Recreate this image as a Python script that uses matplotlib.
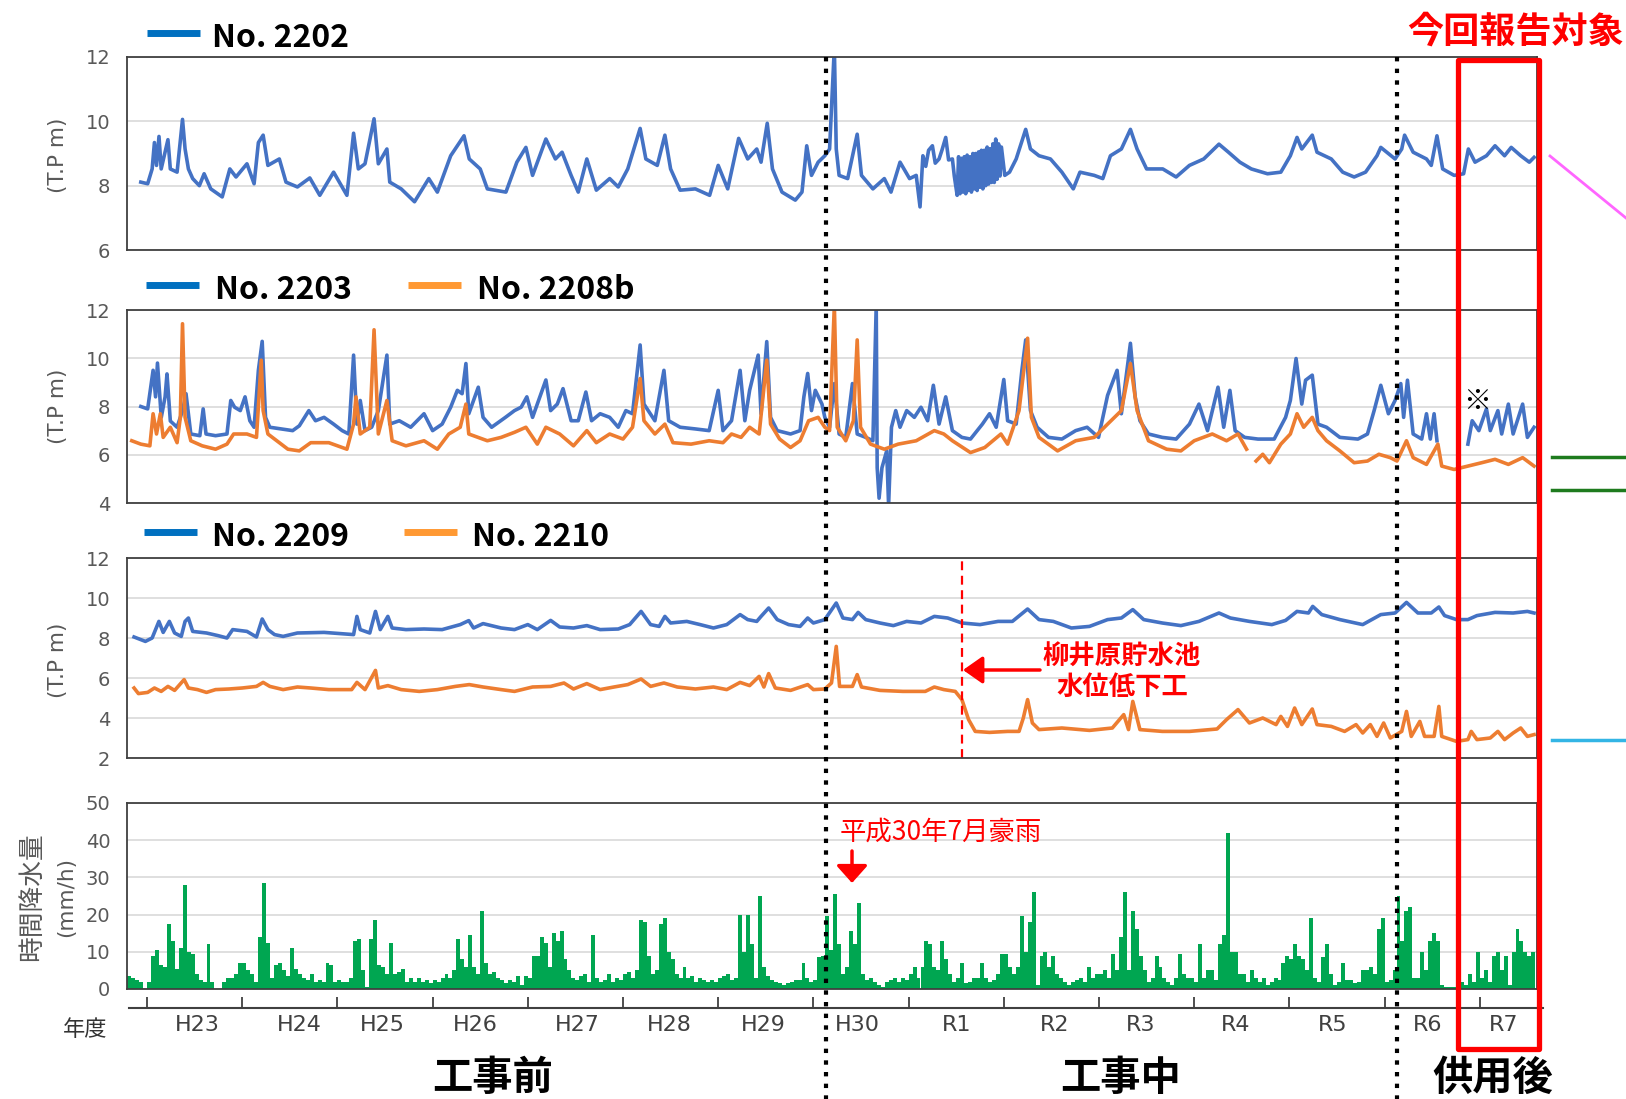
import matplotlib
matplotlib.use('Agg')
import matplotlib.pyplot as plt
import numpy as np
from matplotlib.lines import Line2D
from matplotlib.patches import Rectangle, FancyArrowPatch

# 地下水位 (T.P m) : (年度経過, 値) 年度経過 0 = H23年度開始
pts_2202 = [(-0.065, 8.11), (0.007, 8.06), (0.054, 8.52), (0.078, 9.34), (0.10, 8.63), (0.126, 9.53),
            (0.149, 8.52), (0.22, 9.43), (0.245, 8.52), (0.316, 8.42), (0.373, 10.06), (0.40, 9.14),
            (0.435, 8.52), (0.48, 8.22), (0.55, 8.0), (0.60, 8.37), (0.67, 7.9), (0.79, 7.65),
            (0.87, 8.52), (0.935, 8.27), (1.05, 8.68), (1.125, 8.06), (1.17, 9.34), (1.22, 9.57),
            (1.27, 8.63), (1.39, 8.83), (1.46, 8.11), (1.58, 7.96), (1.71, 8.24), (1.815, 7.7),
            (1.96, 8.42), (2.10, 7.7), (2.17, 9.63), (2.22, 8.52), (2.29, 8.68), (2.385, 10.08),
            (2.43, 8.68), (2.52, 9.14), (2.55, 8.11), (2.67, 7.9), (2.81, 7.5), (2.96, 8.22),
            (3.05, 7.8), (3.19, 8.93), (3.33, 9.55), (3.385, 8.83), (3.50, 8.52), (3.575, 7.9),
            (3.77, 7.8), (3.885, 8.73), (3.98, 9.19), (4.05, 8.32), (4.19, 9.45), (4.29, 8.83),
            (4.36, 9.04), (4.455, 8.32), (4.53, 7.8), (4.62, 8.83), (4.72, 7.86), (4.86, 8.22),
            (4.95, 7.96), (5.05, 8.52), (5.18, 9.78), (5.24, 8.83), (5.36, 8.63), (5.44, 9.57),
            (5.50, 8.52), (5.60, 7.86), (5.76, 7.9), (5.91, 7.7), (6.0, 8.63), (6.10, 7.9),
            (6.215, 9.47), (6.31, 8.83), (6.405, 9.14), (6.45, 8.73), (6.515, 9.94), (6.57, 8.52),
            (6.67, 7.8), (6.81, 7.55), (6.88, 7.8), (6.93, 9.24), (6.98, 8.32), (7.05, 8.73),
            (7.12, 8.93), (7.17, 9.14), (7.22, 12.3), (7.24, 9.14), (7.27, 8.32), (7.36, 8.22),
            (7.46, 9.6), (7.505, 8.32), (7.625, 7.9), (7.745, 8.22), (7.815, 7.8), (7.91, 8.73),
            (8.01, 8.22), (8.08, 8.32), (8.12, 7.34), (8.15, 8.93), (8.18, 8.6), (8.21, 9.1),
            (8.25, 9.24), (8.28, 8.7), (8.32, 8.83), (8.35, 9.1), (8.39, 9.5), (8.42, 8.8),
            (8.46, 8.83), (8.48, 8.3), (8.51, 7.7), (8.525, 8.9), (8.54, 7.75), (8.555, 8.85),
            (8.57, 7.8), (8.585, 8.9), (8.60, 7.75), (8.615, 8.95), (8.63, 7.85), (8.645, 8.9),
            (8.66, 7.8), (8.675, 9.0), (8.69, 7.9), (8.705, 9.0), (8.72, 7.85), (8.735, 9.05),
            (8.75, 7.95), (8.765, 9.1), (8.78, 7.9), (8.795, 9.1), (8.81, 8.0), (8.825, 9.2),
            (8.84, 8.05), (8.855, 9.15), (8.87, 8.1), (8.885, 9.3), (8.90, 8.1), (8.915, 9.45),
            (8.93, 8.2), (8.945, 9.3), (8.96, 8.3), (8.975, 9.2),
            (9.01, 8.32), (9.06, 8.42), (9.13, 8.83), (9.23, 9.75), (9.28, 9.14), (9.37, 8.93),
            (9.49, 8.83), (9.61, 8.42), (9.73, 7.9), (9.80, 8.42), (9.95, 8.32), (10.04, 8.22),
            (10.12, 8.93), (10.235, 9.14), (10.33, 9.75), (10.40, 9.14), (10.50, 8.52), (10.67, 8.52),
            (10.81, 8.27), (10.95, 8.63), (11.10, 8.83), (11.26, 9.29), (11.36, 9.04), (11.48, 8.73),
            (11.60, 8.52), (11.77, 8.37), (11.91, 8.42), (12.01, 8.93), (12.08, 9.5), (12.13, 9.14),
            (12.24, 9.57), (12.29, 9.04), (12.44, 8.83), (12.56, 8.42), (12.68, 8.27), (12.80, 8.42),
            (12.92, 8.93), (12.96, 9.19), (13.11, 8.83), (13.18, 9.14), (13.21, 9.57), (13.30, 9.04),
            (13.44, 8.83), (13.49, 8.63), (13.55, 9.55), (13.61, 8.52), (13.73, 8.32), (13.83, 8.37),
            (13.88, 9.14), (13.95, 8.73), (14.07, 8.93), (14.16, 9.24), (14.26, 8.93), (14.33, 9.19),
            (14.43, 8.93), (14.52, 8.73), (14.57, 8.88)]

pts_2203 = [(-0.065, 8.0), (0.007, 7.9), (0.064, 9.5), (0.09, 8.4), (0.11, 9.8), (0.15, 7.55),
            (0.19, 8.4), (0.21, 9.35), (0.245, 7.4), (0.316, 7.14), (0.373, 7.83), (0.41, 8.53),
            (0.46, 6.86), (0.555, 6.79), (0.59, 7.9), (0.62, 6.86), (0.72, 6.79), (0.84, 6.86),
            (0.88, 8.25), (0.92, 7.97), (0.98, 7.83), (1.03, 8.4), (1.08, 7.41), (1.125, 7.14),
            (1.17, 9.5), (1.21, 10.7), (1.245, 7.55), (1.29, 7.14), (1.41, 7.07), (1.53, 7.0),
            (1.60, 7.2), (1.70, 7.83), (1.77, 7.41), (1.86, 7.55), (1.96, 7.27), (2.05, 7.0),
            (2.12, 6.86), (2.17, 10.13), (2.205, 7.27), (2.24, 8.25), (2.29, 7.0), (2.36, 7.14),
            (2.43, 7.83), (2.52, 10.13), (2.55, 7.27), (2.65, 7.41), (2.77, 7.14), (2.91, 7.7),
            (3.0, 7.0), (3.10, 7.27), (3.19, 7.97), (3.26, 8.67), (3.31, 8.53), (3.35, 9.78),
            (3.38, 7.7), (3.48, 8.8), (3.53, 7.55), (3.62, 7.14), (3.765, 7.55), (3.86, 7.83),
            (3.93, 7.97), (3.99, 8.4), (4.05, 7.55), (4.19, 9.1), (4.24, 7.83), (4.31, 8.1),
            (4.37, 8.74), (4.455, 7.41), (4.53, 7.41), (4.61, 8.6), (4.67, 7.41), (4.76, 7.7),
            (4.86, 7.55), (4.95, 7.14), (5.03, 7.83), (5.10, 7.7), (5.18, 10.55), (5.22, 8.1),
            (5.335, 7.41), (5.43, 9.5), (5.48, 7.41), (5.60, 7.14), (5.76, 7.07), (5.905, 7.0),
            (6.0, 8.67), (6.05, 7.0), (6.14, 7.41), (6.23, 9.5), (6.28, 7.41), (6.33, 8.67),
            (6.42, 10.13), (6.45, 7.7), (6.51, 10.69), (6.55, 7.55), (6.62, 7.0), (6.76, 6.86),
            (6.86, 7.0), (6.90, 8.4), (6.94, 9.37), (6.98, 7.83), (7.02, 8.67), (7.09, 8.1),
            (7.12, 7.55), (7.17, 7.14), (7.22, 8.95), (7.27, 6.86), (7.34, 6.72), (7.41, 8.95),
            (7.46, 6.86), (7.55, 6.72), (7.625, 6.58), (7.66, 12.2), (7.67, 5.46), (7.69, 4.2),
            (7.72, 5.46), (7.77, 6.16), (7.79, 3.9), (7.82, 7.14), (7.865, 7.83), (7.91, 7.14),
            (7.98, 7.83), (8.06, 7.55), (8.13, 7.97), (8.20, 7.41), (8.26, 8.88), (8.32, 7.27),
            (8.39, 8.4), (8.46, 7.0), (8.56, 6.72), (8.65, 6.65), (8.775, 7.27), (8.85, 7.7),
            (8.92, 7.14), (9.0, 9.12), (9.04, 7.41), (9.13, 7.27), (9.19, 9.5), (9.23, 10.76),
            (9.28, 7.83), (9.35, 7.14), (9.47, 6.72), (9.61, 6.65), (9.755, 7.0), (9.875, 7.14),
            (9.995, 6.72), (10.09, 8.46), (10.19, 9.5), (10.235, 7.7), (10.33, 10.62), (10.38, 8.4),
            (10.43, 7.41), (10.52, 6.86), (10.665, 6.72), (10.81, 6.65), (10.95, 7.27), (11.05, 8.1),
            (11.14, 7.0), (11.25, 8.8), (11.31, 7.14), (11.375, 8.67), (11.43, 7.0), (11.53, 6.72),
            (11.67, 6.65), (11.84, 6.65), (11.96, 7.55), (12.01, 8.25), (12.07, 9.99), (12.13, 8.1),
            (12.17, 9.09), (12.24, 9.3), (12.30, 7.27), (12.39, 7.14), (12.53, 6.72), (12.72, 6.65),
            (12.82, 6.86), (12.89, 7.83), (12.96, 8.88), (13.04, 7.7), (13.11, 8.25), (13.17, 8.95),
            (13.2, 7.55), (13.24, 9.09), (13.30, 6.86), (13.39, 6.65), (13.44, 7.7), (13.48, 6.65),
            (13.52, 7.7), (13.55, 6.58), (13.7, np.nan), (13.875, 6.44), (13.92, 7.41), (13.99, 7.0),
            (14.07, 7.9), (14.11, 7.0), (14.19, 7.83), (14.23, 6.86), (14.30, 8.1), (14.35, 6.86),
            (14.45, 8.1), (14.50, 6.72), (14.57, 7.14)]

pts_2208b = [(-0.16, 6.58), (-0.065, 6.44), (0.03, 6.37), (0.064, 7.7), (0.10, 6.86), (0.14, 7.7),
             (0.17, 6.72), (0.245, 7.14), (0.316, 6.5), (0.35, 7.55), (0.373, 11.43), (0.40, 7.55),
             (0.46, 6.58), (0.58, 6.37), (0.72, 6.23), (0.84, 6.44), (0.91, 6.86), (1.05, 6.86),
             (1.15, 6.72), (1.20, 9.92), (1.22, 7.83), (1.27, 6.86), (1.34, 6.65), (1.48, 6.23),
             (1.60, 6.16), (1.72, 6.5), (1.91, 6.5), (2.10, 6.23), (2.17, 7.27), (2.195, 8.4),
             (2.24, 6.86), (2.34, 7.14), (2.385, 11.18), (2.43, 6.86), (2.52, 8.25), (2.575, 6.58),
             (2.72, 6.37), (2.91, 6.58), (3.05, 6.23), (3.17, 6.86), (3.29, 7.14), (3.35, 8.1),
             (3.38, 6.86), (3.575, 6.58), (3.72, 6.72), (3.86, 6.93), (3.98, 7.14), (4.10, 6.44),
             (4.19, 7.14), (4.335, 6.86), (4.48, 6.37), (4.62, 7.0), (4.72, 6.5), (4.86, 6.86),
             (5.0, 6.65), (5.10, 7.14), (5.18, 9.16), (5.22, 7.41), (5.335, 6.86), (5.44, 7.27),
             (5.525, 6.5), (5.715, 6.44), (5.905, 6.58), (6.05, 6.5), (6.14, 6.86), (6.24, 6.72),
             (6.33, 7.14), (6.43, 6.86), (6.51, 9.92), (6.55, 7.27), (6.645, 6.65), (6.76, 6.3),
             (6.86, 6.58), (6.95, 7.41), (7.05, 7.55), (7.12, 7.14), (7.17, 7.0), (7.22, 12.2),
             (7.25, 7.14), (7.34, 6.58), (7.42, 7.41), (7.46, 10.76), (7.495, 7.14), (7.60, 6.44),
             (7.745, 6.23), (7.89, 6.44), (8.08, 6.58), (8.27, 7.0), (8.37, 6.86), (8.46, 6.58),
             (8.65, 6.09), (8.80, 6.3), (8.97, 6.86), (9.04, 6.44), (9.16, 7.83), (9.25, 10.83),
             (9.29, 7.55), (9.37, 6.72), (9.565, 6.16), (9.755, 6.58), (9.95, 6.72), (10.09, 7.27),
             (10.235, 7.83), (10.33, 9.78), (10.40, 7.83), (10.52, 6.58), (10.71, 6.23), (10.86, 6.16),
             (11.0, 6.58), (11.19, 6.86), (11.34, 6.58), (11.46, 6.86), (11.55, 6.23), (11.6, np.nan),
             (11.65, 5.74), (11.72, 6.02), (11.79, 5.67), (11.91, 6.44), (12.01, 6.86), (12.08, 7.7),
             (12.15, 7.14), (12.24, 7.55), (12.30, 7.0), (12.39, 6.58), (12.53, 6.16), (12.68, 5.67),
             (12.82, 5.74), (12.94, 6.02), (13.06, 5.88), (13.13, 5.74), (13.23, 6.58), (13.30, 5.88),
             (13.44, 5.6), (13.56, 6.44), (13.60, 5.53), (13.73, 5.39), (13.875, 5.53), (14.02, 5.67),
             (14.16, 5.81), (14.30, 5.6), (14.45, 5.88), (14.57, 5.53)]

pts_2209 = [(-0.136, 8.05), (-0.017, 7.83), (0.054, 8.0), (0.125, 8.83), (0.17, 8.28), (0.235, 8.83),
            (0.29, 8.25), (0.36, 8.08), (0.40, 8.83), (0.435, 9.0), (0.48, 8.33), (0.625, 8.25),
            (0.745, 8.12), (0.84, 8.0), (0.90, 8.42), (1.05, 8.33), (1.15, 8.05), (1.21, 8.95),
            (1.27, 8.42), (1.34, 8.17), (1.43, 8.08), (1.58, 8.25), (1.86, 8.28), (2.17, 8.17),
            (2.205, 9.08), (2.24, 8.42), (2.34, 8.25), (2.40, 9.33), (2.45, 8.42), (2.53, 9.08),
            (2.575, 8.5), (2.72, 8.42), (2.91, 8.45), (3.10, 8.42), (3.29, 8.67), (3.38, 8.87),
            (3.43, 8.5), (3.53, 8.72), (3.72, 8.5), (3.86, 8.42), (4.0, 8.67), (4.10, 8.42),
            (4.24, 8.88), (4.335, 8.55), (4.48, 8.5), (4.62, 8.62), (4.76, 8.42), (4.95, 8.45),
            (5.07, 8.67), (5.19, 9.33), (5.29, 8.67), (5.38, 8.58), (5.44, 9.08), (5.50, 8.75),
            (5.67, 8.83), (5.81, 8.67), (5.95, 8.5), (6.09, 8.67), (6.23, 9.17), (6.31, 8.92),
            (6.405, 8.83), (6.45, 9.08), (6.53, 9.5), (6.62, 8.92), (6.74, 8.67), (6.86, 8.58),
            (6.94, 9.0), (7.0, 8.75), (7.12, 8.92), (7.24, 9.75), (7.31, 9.0), (7.41, 8.92),
            (7.47, 9.28), (7.55, 8.92), (7.70, 8.75), (7.84, 8.62), (7.98, 8.83), (8.13, 8.75),
            (8.27, 9.08), (8.41, 9.0), (8.56, 8.75), (8.75, 8.67), (8.94, 8.83), (9.09, 8.83),
            (9.25, 9.45), (9.37, 8.92), (9.52, 8.83), (9.71, 8.5), (9.90, 8.58), (10.09, 8.92),
            (10.235, 9.0), (10.355, 9.42), (10.47, 8.92), (10.665, 8.75), (10.86, 8.62), (11.05, 8.83),
            (11.26, 9.25), (11.38, 9.0), (11.58, 8.83), (11.815, 8.67), (11.96, 8.88), (12.08, 9.33),
            (12.20, 9.25), (12.245, 9.58), (12.34, 9.17), (12.53, 8.92), (12.77, 8.67), (12.96, 9.17),
            (13.11, 9.25), (13.23, 9.78), (13.35, 9.25), (13.49, 9.25), (13.57, 9.55), (13.63, 9.12),
            (13.755, 8.92), (13.875, 8.92), (13.97, 9.12), (14.16, 9.28), (14.35, 9.25), (14.50, 9.33),
            (14.57, 9.25)]

pts_2210 = [(-0.136, 5.5), (-0.09, 5.22), (0.007, 5.28), (0.078, 5.5), (0.149, 5.33), (0.22, 5.58),
            (0.29, 5.38), (0.39, 5.92), (0.435, 5.5), (0.53, 5.42), (0.625, 5.28), (0.72, 5.42),
            (0.86, 5.45), (1.0, 5.5), (1.15, 5.58), (1.22, 5.78), (1.29, 5.58), (1.43, 5.42),
            (1.58, 5.55), (1.72, 5.5), (1.91, 5.42), (2.15, 5.42), (2.205, 5.78), (2.29, 5.42),
            (2.40, 6.38), (2.43, 5.5), (2.53, 5.62), (2.67, 5.42), (2.86, 5.33), (3.05, 5.42),
            (3.24, 5.58), (3.385, 5.67), (3.53, 5.55), (3.72, 5.42), (3.86, 5.33), (4.05, 5.55),
            (4.24, 5.58), (4.38, 5.75), (4.48, 5.45), (4.62, 5.72), (4.76, 5.42), (4.905, 5.55),
            (5.05, 5.67), (5.19, 5.95), (5.29, 5.58), (5.43, 5.75), (5.57, 5.55), (5.76, 5.45),
            (5.95, 5.55), (6.09, 5.42), (6.23, 5.78), (6.33, 5.62), (6.43, 6.08), (6.48, 5.55),
            (6.53, 6.22), (6.60, 5.5), (6.76, 5.38), (6.94, 5.67), (7.0, 5.42), (7.12, 5.45),
            (7.19, 5.75), (7.24, 7.58), (7.275, 5.58), (7.41, 5.58), (7.46, 6.17), (7.505, 5.55),
            (7.70, 5.38), (7.94, 5.33), (8.175, 5.33), (8.27, 5.55), (8.37, 5.42), (8.49, 5.33),
            (8.56, 4.92), (8.63, 3.92), (8.70, 3.33), (8.85, 3.28), (9.04, 3.33), (9.16, 3.33),
            (9.205, 4.0), (9.25, 4.92), (9.30, 3.75), (9.37, 3.42), (9.61, 3.5), (9.90, 3.38),
            (10.14, 3.5), (10.26, 4.17), (10.31, 3.42), (10.355, 4.83), (10.43, 3.42), (10.665, 3.33),
            (10.95, 3.33), (11.24, 3.45), (11.34, 3.92), (11.46, 4.42), (11.58, 3.75), (11.72, 4.0),
            (11.86, 3.67), (11.91, 4.08), (11.98, 3.58), (12.055, 4.5), (12.13, 3.67), (12.24, 4.45),
            (12.29, 3.67), (12.44, 3.58), (12.58, 3.33), (12.70, 3.67), (12.77, 3.25), (12.85, 3.67),
            (12.92, 3.08), (12.99, 3.75), (13.06, 3.0), (13.18, 3.33), (13.23, 4.33), (13.28, 3.08),
            (13.37, 3.83), (13.42, 3.08), (13.52, 3.08), (13.57, 4.58), (13.60, 3.08), (13.755, 2.83),
            (13.875, 2.92), (13.91, 3.33), (13.97, 2.92), (14.11, 3.0), (14.19, 3.33), (14.26, 2.92),
            (14.35, 3.25), (14.43, 3.5), (14.50, 3.08), (14.57, 3.17)]

# 時間降水量 (mm/h) : 半月ごと, 年度ごと
rain_pre = [3.5, 3, 2.5, 2, 0]
rain_h23 = [2, 9, 10.5, 6.5, 6, 17.5, 13, 5.5, 11, 28, 10, 9.5, 4, 2.5, 2, 12, 2, 0, 0, 2, 3, 3, 4, 7]
rain_h24 = [7, 5, 4, 2, 14, 28.5, 12.5, 3, 6.5, 7, 5, 3.5, 11, 5.5, 4, 3, 2.5, 4, 2, 2.5, 2, 7, 6.5, 2]
rain_h25 = [2.5, 2, 2, 3, 13, 13.5, 5, 0.5, 13.5, 18.5, 6.5, 6, 4, 12.5, 4, 4.5, 5.5, 2, 3, 2, 3, 2, 2.5, 1.5]
rain_h26 = [2.5, 2, 3, 4, 3, 5, 13.5, 8, 6, 14.5, 6, 4, 21, 7, 4, 4.5, 3, 2.5, 1.5, 2.5, 2, 3.5, 1, 3.5]
rain_h27 = [3, 9, 9, 14, 12.5, 6, 15, 13, 15.5, 8, 5, 3, 2.5, 3.5, 4, 2, 14.5, 3, 2, 2.5, 4, 2, 3, 2.5]
rain_h28 = [4, 4.5, 3, 5, 18.5, 18, 9, 4, 5, 17.5, 19, 10, 8, 4, 3, 6, 3, 3.5, 2, 3, 2.5, 2, 2.5, 2]
rain_h29 = [3, 3.5, 4, 2.5, 3, 20, 10, 20, 12, 3, 25, 6, 3.5, 2.5, 2, 1.5, 1, 1.5, 2, 2.5, 2.5, 7, 3, 2]
rain_h30 = [2.5, 8.5, 9, 19.5, 10.5, 25.5, 12, 4, 6, 15.5, 12, 23, 4, 2.5, 3, 2, 1, 0.5, 2, 2.5, 3, 2, 3, 2.5]
rain_r1 = [4, 6, 3, 6, 13, 12, 6, 5, 13, 8, 4, 2, 3, 7, 1.5, 2, 3, 3, 7, 3, 2, 2.5, 4, 9.5]
rain_r2 = [9.5, 6, 4, 6, 19.5, 10, 18, 26, 1, 9, 10, 6, 9, 4, 3, 2, 1, 2, 2.5, 3, 2, 6, 3, 4]
rain_r3 = [4, 5, 3, 9.5, 5, 14, 26, 5, 21, 16, 9, 5, 2, 3, 9, 6, 3, 2, 1, 3, 9.5, 4, 3, 3]
rain_r4 = [2, 12, 3, 5, 5, 2.5, 12, 14.5, 42, 10, 10, 4, 4, 2, 5, 3, 2, 3, 1, 2, 3, 2.5, 7, 9]
rain_r5 = [8, 12, 9, 8, 5, 19, 3, 2, 8.5, 12, 4, 1, 2, 7, 2.5, 2.5, 1.5, 2, 5, 5, 6, 4, 16, 19]
rain_r6 = [2, 2.5, 5, 25, 13, 21, 22, 3, 3, 10, 5, 13, 15, 13, 1, 0.5, 0.5, 0.5, 3, 2, 1, 4, 2, 10]
rain_r7 = [3, 5, 2, 9, 10, 5, 9, 1, 10, 16, 13, 10, 9, 10]

year_labels = ['H23', 'H24', 'H25', 'H26', 'H27', 'H28', 'H29', 'H30',
               'R1', 'R2', 'R3', 'R4', 'R5', 'R6', 'R7']
year_label_pos = [0.53, 1.60, 2.47, 3.45, 4.52, 5.49, 6.47, 7.46,
                  8.50, 9.53, 10.44, 11.44, 12.45, 13.45, 14.25]

W, H = 1626, 1099
fig = plt.figure(figsize=(W / 100, H / 100), dpi=100)
JP = ['Noto Sans CJK JP', 'DejaVu Sans']

BLUE = '#4472C4'
ORANGE = '#ED7D31'
GREEN = '#00A651'
GRAY = '#595959'


def fx(x):
    return x / W


def fy(y):
    return 1 - y / H


def t_of(px):
    return (px - 147) / 95.2


XLIM = (t_of(127), t_of(1537))


def panel(top, bottom, ylim, yticks):
    ax = fig.add_axes([fx(127), fy(bottom), (1537 - 127) / W, (bottom - top) / H])
    ax.set_xlim(*XLIM)
    ax.set_ylim(*ylim)
    ax.set_yticks(yticks)
    ax.set_xticks([])
    ax.tick_params(axis='y', length=0, pad=12, labelsize=14, labelcolor=GRAY)
    ax.yaxis.grid(True, color='#d9d9d9', lw=1.2)
    ax.set_axisbelow(True)
    for s in ax.spines.values():
        s.set_color('#404040')
        s.set_linewidth(1.3)
    return ax


def series(ax, pts, color):
    t, v = np.array(pts, dtype=float).T
    ax.plot(t, v, color=color, lw=2.6, solid_joinstyle='round')


# パネル
ax1 = panel(57, 250, (6, 12), [6, 8, 10, 12])
series(ax1, pts_2202, BLUE)

ax2 = panel(310, 503, (4, 12), [4, 6, 8, 10, 12])
series(ax2, pts_2203, BLUE)
series(ax2, pts_2208b, ORANGE)

ax3 = panel(558, 758, (2, 12), [2, 4, 6, 8, 10, 12])
series(ax3, pts_2209, BLUE)
series(ax3, pts_2210, ORANGE)
ax3.axvline(t_of(962), color='red', lw=1.6, ls=(0, (4, 2.5)))

ax4 = panel(803, 989, (0, 50), [0, 10, 20, 30, 40, 50])
rain = (rain_pre + rain_h23 + rain_h24 + rain_h25 + rain_h26 + rain_h27 + rain_h28 + rain_h29
        + rain_h30 + rain_r1 + rain_r2 + rain_r3 + rain_r4 + rain_r5 + rain_r6 + rain_r7)
t_rain = -5 / 24 + (np.arange(len(rain)) + 0.5) / 24
ax4.bar(t_rain, rain, width=1 / 24, color=GREEN, lw=0)

# 年度軸
ax5 = fig.add_axes([fx(129), fy(1008), (1543 - 129) / W, 0.002])
ax5.set_xlim(t_of(129), t_of(1543))
ax5.set_ylim(0, 1)
ax5.patch.set_visible(False)
for k in ['left', 'right', 'top']:
    ax5.spines[k].set_visible(False)
ax5.spines['bottom'].set_color('#404040')
ax5.spines['bottom'].set_linewidth(1.5)
ax5.set_yticks([])
ax5.set_xticks(range(15))
ax5.set_xticklabels([])
ax5.tick_params(axis='x', which='major', direction='in', length=8, width=1.3, color='#404040')
ax5.set_xticks(year_label_pos, minor=True)
ax5.set_xticklabels(year_labels, minor=True)
ax5.tick_params(axis='x', which='minor', length=0, pad=5, labelsize=16, labelcolor='#404040')


def txt(x, y, s, **kw):
    return fig.text(fx(x), fy(y), s, **kw)


# 凡例
def legend_item(x0, y, color, label, tx):
    fig.add_artist(Line2D([fx(x0), fx(x0 + 53)], [fy(y), fy(y)], transform=fig.transFigure,
                          color=color, lw=5, solid_capstyle='butt'))
    txt(tx, y + 5, label, ha='left', va='center', fontsize=23, fontweight='bold', family=JP)


legend_item(147, 33, '#0070C0', 'No. 2202', 212)
legend_item(146, 285, '#0070C0', 'No. 2203', 215)
legend_item(408, 285, '#FF9933', 'No. 2208b', 477)
legend_item(144, 532, '#0070C0', 'No. 2209', 212)
legend_item(404, 532, '#FF9933', 'No. 2210', 472)

# 軸ラベル
for yc in (155, 406, 660):
    txt(58, yc, '(T.P m)', rotation=90, ha='center', va='center', fontsize=15.5, color=GRAY)
txt(32, 897, '時間降水量', rotation=90, ha='center', va='center', fontsize=18.5, color=GRAY, family=JP)
txt(66, 897, '(mm/h)', rotation=90, ha='center', va='center', fontsize=15.5, color=GRAY)
txt(85, 1030, '年度', ha='center', va='center', fontsize=16, color='#333333', family=JP)

# 区切り線
for xp in (826, 1397):
    fig.add_artist(Line2D([fx(xp), fx(xp)], [fy(57), fy(1099)], transform=fig.transFigure,
                          color='black', lw=3, ls=(0, (1.05, 1.75)), dash_capstyle='butt', zorder=10))

fig.add_artist(Rectangle((fx(1458), fy(1049)), fx(1539) - fx(1458), fy(60) - fy(1049),
                         transform=fig.transFigure, fill=False, ec='#FF0000', lw=3.8,
                         joinstyle='round', zorder=11))
txt(1516, 32, '今回報告対象', ha='center', va='center', fontsize=26, fontweight='bold',
    color='#FF0000', family=JP)

txt(493, 1078, '工事前', ha='center', va='center', fontsize=29, fontweight='bold', family=JP)
txt(1121, 1078, '工事中', ha='center', va='center', fontsize=29, fontweight='bold', family=JP)
txt(1493, 1078, '供用後', ha='center', va='center', fontsize=29, fontweight='bold', family=JP)

txt(1477, 402, '※', ha='center', va='center', fontsize=20, family=JP)

# 注記
txt(1122, 657, '柳井原貯水池', ha='center', va='center', fontsize=19, fontweight='bold',
    color='#FF0000', family=JP)
txt(1122, 687, '水位低下工', ha='center', va='center', fontsize=19, fontweight='bold',
    color='#FF0000', family=JP)
fig.add_artist(FancyArrowPatch((fx(1040), fy(670)), (fx(963), fy(670)), transform=fig.transFigure,
                               arrowstyle='-|>,head_length=0.4,head_width=0.28', mutation_scale=30,
                               color='#FF0000', lw=2.5, shrinkA=0, shrinkB=0))

txt(840, 832, '平成30年7月豪雨', ha='left', va='center', fontsize=19, color='#FF0000', family=JP)
fig.add_artist(FancyArrowPatch((fx(852), fy(851)), (fx(852), fy(883)), transform=fig.transFigure,
                               arrowstyle='-|>,head_length=0.38,head_width=0.34', mutation_scale=28,
                               color='#FF0000', lw=2.5, shrinkA=0, shrinkB=0))

# 右端の引出線
fig.add_artist(Line2D([fx(1550), fx(1626)], [fy(156), fy(218)], transform=fig.transFigure,
                      color='#FF66FF', lw=2))
for yp in (457, 490):
    fig.add_artist(Line2D([fx(1552), fx(1626)], [fy(yp), fy(yp)], transform=fig.transFigure,
                          color='#1E7B1E', lw=2.5))
fig.add_artist(Line2D([fx(1552), fx(1626)], [fy(740), fy(740)], transform=fig.transFigure,
                      color='#33B5E5', lw=2.5))

fig.savefig('out.png', dpi=100)
